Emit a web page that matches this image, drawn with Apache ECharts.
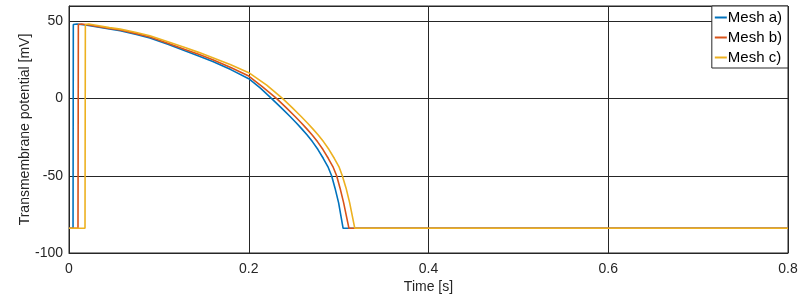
<!DOCTYPE html>
<html>
<head>
<meta charset="utf-8">
<script src="https://cdn.jsdelivr.net/npm/echarts@6/dist/echarts.min.js"></script>
<style>html,body{margin:0;padding:0;background:#fff;}#c{width:812px;height:296px;}</style>
</head>
<body>
<div id="c"></div>
<script>
var seriesNames = ['Mesh a)', 'Mesh b)', 'Mesh c)'];
var meshA = [[0,-84],[0.0045,-84],[0.0048,48],[0.009,48.3],[0.02,47.5],[0.03,46.6],[0.045,45.2],[0.057,44],[0.075,41.6],[0.09,39.3],[0.11,35.2],[0.129,31],[0.145,27.5],[0.16,24],[0.18,18.8],[0.2,12.9],[0.213,6.8],[0.2255,0],[0.236,-5.8],[0.246,-11.6],[0.253,-15.8],[0.259,-19.6],[0.265,-23.6],[0.271,-28],[0.277,-33],[0.283,-38.8],[0.288,-44],[0.2922,-50],[0.296,-58],[0.3,-67.5],[0.305,-84],[0.8,-84]];
var meshB = [[0,-84],[0.0100,-84],[0.0104,48],[0.014,48.3],[0.022,47.7],[0.03,46.9],[0.045,45.5],[0.057,44.4],[0.075,42.1],[0.09,39.9],[0.11,35.9],[0.129,31.9],[0.145,28.6],[0.16,25.2],[0.18,20.2],[0.2,14.6],[0.215,7.8],[0.2311,0],[0.2416,-5.8],[0.2516,-11.6],[0.2586,-15.8],[0.2646,-19.6],[0.2706,-23.6],[0.2766,-28],[0.2826,-33],[0.2886,-38.8],[0.2936,-44],[0.2978,-50],[0.3016,-58],[0.3056,-67.5],[0.3115,-84],[0.8,-84]];
var meshC = [[0,-84],[0.0178,-84],[0.0182,48],[0.022,48.3],[0.03,47.5],[0.045,46],[0.057,45],[0.075,42.8],[0.09,40.7],[0.11,36.9],[0.129,33.1],[0.145,29.8],[0.16,26.5],[0.18,21.9],[0.2,16.8],[0.22,8.8],[0.2378,0],[0.2483,-5.8],[0.2583,-11.6],[0.2653,-15.8],[0.2713,-19.6],[0.2773,-23.6],[0.2833,-28],[0.2893,-33],[0.2953,-38.8],[0.3003,-44],[0.3041,-50],[0.3083,-58],[0.3123,-67.5],[0.318,-84],[0.8,-84]];
var xTicks = [0, 0.2, 0.4, 0.6, 0.8];
var yTicks = [-100, -50, 0, 50];

var colors = ['#0072BD', '#D95319', '#EDB120'];
var chart = echarts.init(document.getElementById('c'));
var font = 'Liberation Sans, Arial, sans-serif';
var allData = [meshA, meshB, meshC];
chart.setOption({
  animation: false,
  color: colors,
  grid: {left: 69, right: 24, top: 6, bottom: 43, outerBoundsMode: 'none', containLabel: false,
    show: true, borderColor: '#262626', borderWidth: 1, backgroundColor: '#fff'},
  legend: {
    data: seriesNames, orient: 'vertical', right: 24, top: 6,
    icon: 'rect', itemWidth: 12, itemHeight: 2, itemGap: 5,
    backgroundColor: '#fff', borderColor: '#262626', borderWidth: 1, padding: [4, 6, 3, 3],
    textStyle: {fontFamily: font, fontSize: 15, color: '#000', padding: [0, 0, 0, -4]}
  },
  xAxis: {
    type: 'value', min: xTicks[0], max: xTicks[xTicks.length - 1], interval: 0.2,
    name: 'Time [s]', nameLocation: 'middle', nameGap: 27, nameMoveOverlap: false,
    nameTextStyle: {fontFamily: font, fontSize: 14, color: '#262626'},
    axisLine: {show: true, onZero: false, lineStyle: {color: '#262626'}},
    axisTick: {show: true, inside: true, length: 4, lineStyle: {color: '#262626'}},
    axisLabel: {fontFamily: font, fontSize: 14, color: '#262626', margin: 9,
      formatter: function (v) { return String(+v.toFixed(1)); }},
    splitLine: {show: true, lineStyle: {color: '#262626', width: 1}}
  },
  yAxis: {
    type: 'value', min: yTicks[0], max: 60, interval: 50,
    name: 'Transmembrane potential [mV]', nameLocation: 'middle', nameGap: 37, nameMoveOverlap: false,
    nameTextStyle: {fontFamily: font, fontSize: 14, color: '#262626'},
    axisLine: {show: true, onZero: false, lineStyle: {color: '#262626'}},
    axisTick: {show: true, inside: true, length: 4, lineStyle: {color: '#262626'}},
    axisLabel: {fontFamily: font, fontSize: 14, color: '#262626', margin: 6,
      formatter: function (v) { return yTicks.indexOf(v) >= 0 ? String(v) : ''; }},
    splitLine: {show: true, lineStyle: {color: '#262626', width: 1}}
  },
  series: seriesNames.map(function (n, i) {
    return {name: n, type: 'line', data: allData[i], showSymbol: false, symbol: 'none',
      lineStyle: {width: 1.6, color: colors[i]}, z: 2 + i};
  })
});
</script>
</body>
</html>
